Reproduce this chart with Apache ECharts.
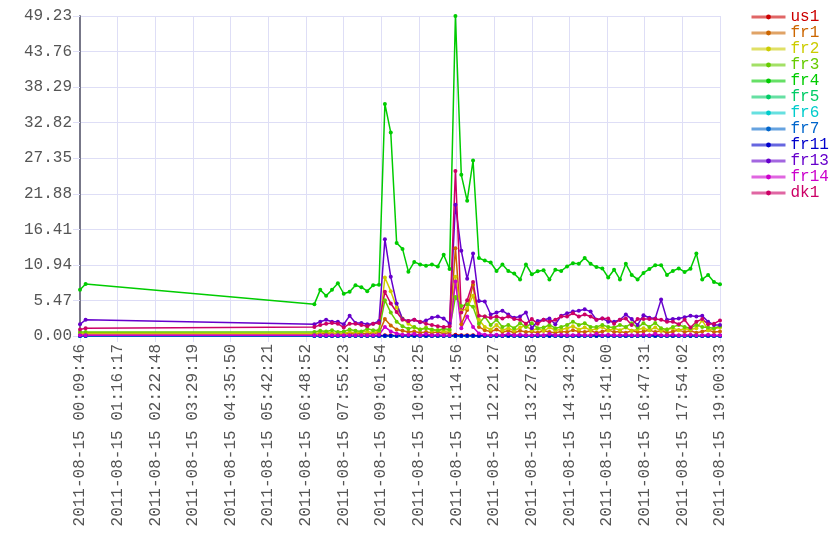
<!DOCTYPE html>
<html><head><meta charset="utf-8">
<script src="https://cdn.jsdelivr.net/npm/echarts@6/dist/echarts.min.js"></script>
<style>html,body{margin:0;padding:0;background:#fff}#c{width:840px;height:560px}</style>
</head><body><div id="c"></div>
<script>
const DAY = '2011-08-15';
const times = ['00:09:46','00:19:40',
'07:03:52','07:14:15','07:24:38','07:35:01','07:45:24','07:55:47','08:06:10','08:16:33','08:26:56','08:37:19','08:47:42','08:58:05',
'09:08:28','09:18:51','09:29:14','09:39:37','09:50:00','10:00:23','10:10:46','10:21:09','10:31:32','10:41:55','10:52:18','11:02:41',
'11:13:04','11:23:27','11:33:50','11:44:13','11:54:36','12:04:59','12:15:22','12:25:45','12:36:08','12:46:31','12:56:54','13:07:17',
'13:17:40','13:28:03','13:38:26','13:48:49','13:59:12','14:09:35','14:19:58','14:30:21','14:40:44','14:51:07','15:01:30','15:11:53',
'15:22:16','15:32:39','15:43:02','15:53:25','16:03:48','16:14:11','16:24:34','16:34:57','16:45:20','16:55:43','17:06:06','17:16:29',
'17:26:52','17:37:15','17:47:38','17:58:01','18:08:24','18:18:47','18:29:10','18:39:33','18:49:56','19:00:33'];

const seriesNames = ['us1','fr1','fr2','fr3','fr4','fr5','fr6','fr7','fr11','fr13','fr14','dk1'];
const seriesColors = ['#cc0000','#cc6600','#cccc00','#66cc00','#00cc00','#00cc66','#00cccc','#0066cc','#0000cc','#6600cc','#cc00cc','#cc0066'];

const us1 = [0.05,0.05,0.05,0.05,0.05,0.05,0.05,0.05,0.05,0.05,0.05,0.05,0.05,0.05,0.1,0.1,0.05,0.05,0.05,0.05,0.05,0.05,0.05,0.05,0.05,0.05,0.2,0.1,0.1,0.1,0.05,0.05,0.05,0.05,0.05,0.05,0.05,0.05,0.05,0.05,0.05,0.05,0.05,0.05,0.05,0.05,0.05,0.05,0.05,0.05,0.05,0.05,0.05,0.05,0.05,0.05,0.05,0.05,0.05,0.05,0.05,0.05,0.05,0.05,0.05,0.05,0.05,0.05,0.05,0.05,0.05,0.05];
const fr1 = [0.3,0.3,0.3,0.4,0.3,0.4,0.3,0.3,0.4,0.3,0.4,0.3,0.4,0.5,2.6,1.6,1.0,0.8,0.6,0.7,0.5,0.6,0.5,0.6,0.4,0.5,13.5,1.8,4.0,7.9,1.4,0.9,0.7,1.0,0.6,0.8,0.5,0.8,0.6,0.7,0.5,0.8,0.6,0.5,0.7,0.6,0.9,0.7,0.6,0.8,0.5,0.7,0.9,0.6,0.7,0.5,0.8,0.6,0.7,0.9,0.6,0.8,0.5,0.7,0.9,0.6,0.8,0.5,0.7,0.9,0.6,0.7];
const fr2 = [0.4,0.5,0.4,0.5,0.6,0.4,0.5,0.4,0.6,0.5,0.6,0.7,0.5,0.8,9.0,6.9,4.4,2.7,1.9,1.3,1.0,1.3,0.8,0.9,0.7,0.8,9.1,3.8,4.3,6.2,2.5,1.4,1.0,1.7,0.9,1.2,0.8,1.3,1.6,0.9,1.1,0.8,1.3,0.9,1.0,1.2,1.5,1.0,1.3,0.9,1.1,1.4,0.8,1.2,0.9,1.3,0.8,1.0,1.2,0.9,1.3,0.8,1.0,1.2,0.9,1.1,1.0,1.2,2.4,0.9,1.1,1.3];
const fr3 = [0.6,0.6,0.6,0.8,0.7,0.9,0.6,0.7,1.0,0.8,0.7,1.1,0.9,0.9,5.5,3.6,2.2,1.5,1.1,1.4,1.0,1.2,1.0,0.9,1.1,1.0,6.0,4.6,4.9,4.5,1.9,3.0,1.7,2.5,1.4,1.7,1.2,1.95,1.4,1.95,1.2,1.3,1.7,1.2,1.4,1.7,2.2,1.7,1.95,1.4,1.4,1.7,1.4,1.3,1.7,1.4,1.95,1.3,1.95,1.4,2.0,1.2,1.0,1.4,1.7,1.4,1.2,1.7,1.4,1.3,1.2,1.5];
const fr4 = [7.1,8.0,4.9,7.1,6.2,7.1,8.1,6.5,6.8,7.8,7.5,6.9,7.8,7.9,35.7,31.3,14.3,13.4,9.9,11.4,11.0,10.8,11.0,10.7,12.5,10.3,49.23,24.8,20.8,27.0,12.0,11.6,11.3,10.0,11.0,10.0,9.6,8.7,11.0,9.5,9.95,10.1,8.7,10.2,10.0,10.7,11.2,11.1,12.0,11.1,10.6,10.4,9.0,10.2,8.7,11.1,9.4,8.7,9.7,10.3,10.9,10.9,9.4,10.0,10.4,9.85,10.35,12.7,8.7,9.4,8.3,7.95];
const fr5 = [0,0,0,0,0,0,0,0,0,0,0,0,0,0,0,0,0,0,0,0,0,0,0,0,0,0,0,0,0,0,0,0,0,0,0,0,0,0,0,0,0,0,0,0,0,0,0,0,0,0,0,0,0,0,0,0,0,0,0,0,0,0,0,0,0,0,0,0,0,0,0,0];
const fr6 = [0,0,0,0,0,0,0,0,0,0,0,0,0,0,0,0,0,0,0,0,0,0,0,0,0,0,0,0,0,0,0,0,0,0,0,0,0,0,0,0,0,0,0,0,0,0,0,0,0,0,0,0,0,0,0,0,0,0,0,0,0,0,0,0,0,0,0,0,0,0,0,0];
const fr7 = [0,0,0,0,0,0,0,0,0,0,0,0,0,0,0,0,0,0,0,0,0,0,0,0,0,0,0,0,0,0,0,0,0,0,0,0,0,0,0,0,0,0,0,0,0,0,0,0,0,0,0,0,0,0,0,0,0,0,0,0,0,0,0,0,0,0,0,0,0,0,0,0];
const fr11 = [0.02,0.02,0.02,0.02,0.02,0.02,0.02,0.02,0.02,0.02,0.02,0.02,0.02,0.02,0.02,0.02,0.02,0.02,0.02,0.02,0.02,0.02,0.02,0.02,0.02,0.02,0.02,0.02,0.02,0.02,0.02,0.02,0.02,0.02,0.02,0.02,0.02,0.02,0.02,0.02,0.02,0.02,0.02,0.02,0.02,0.02,0.02,0.02,0.02,0.02,0.02,0.02,0.02,0.02,0.02,0.02,0.02,0.02,0.02,0.02,0.02,0.02,0.02,0.02,0.02,0.02,0.02,0.02,0.02,0.02,0.02,0.02];
const fr13 = [1.8,2.5,1.8,2.2,2.5,2.2,2.2,1.8,3.1,2.0,2.0,1.8,1.9,2.3,14.9,9.1,5.0,2.6,2.3,2.5,2.1,2.4,2.8,3.0,2.7,1.9,20.2,13.1,8.8,12.7,5.4,5.3,3.3,3.6,3.9,3.3,2.8,3.0,3.6,1.2,2.3,2.5,2.7,1.8,3.1,3.5,3.75,3.9,4.1,3.75,2.5,2.7,2.2,2.2,2.5,3.3,2.6,1.7,3.2,2.8,2.7,5.6,2.5,2.6,2.7,2.9,3.1,3.0,3.1,2.2,1.7,1.7];
const fr14 = [0.1,0.1,0.1,0.1,0.1,0.1,0.1,0.1,0.1,0.1,0.1,0.1,0.1,0.2,1.4,0.7,0.4,0.2,0.2,0.3,0.1,0.3,0.1,0.2,0.1,0.1,8.4,1.2,3.0,1.4,0.4,0.2,0.1,0.2,0.1,0.3,0.1,0.2,0.1,0.1,0.2,0.1,0.3,0.1,0.2,0.1,0.1,0.2,0.1,0.1,0.3,0.1,0.2,0.1,0.1,0.2,0.1,0.1,0.2,0.1,0.3,0.1,0.1,0.2,0.1,0.1,0.2,0.1,0.1,0.2,0.1,0.1];
const dk1 = [1.0,1.2,1.4,1.7,1.9,2.0,1.9,1.3,1.9,1.9,1.7,1.5,1.9,2.0,6.8,5.0,3.7,2.5,2.3,2.5,2.2,1.9,1.7,1.5,1.4,1.5,25.4,3.6,5.5,8.3,3.1,3.0,2.8,3.0,2.7,3.0,2.6,2.5,1.9,2.6,1.9,2.5,2.2,2.5,3.0,3.0,3.5,3.0,3.3,3.0,2.5,2.7,2.7,1.9,2.5,2.7,1.7,2.6,2.6,2.6,2.6,2.5,2.2,2.2,1.8,2.5,1.3,2.2,2.6,1.8,1.9,2.4];

const seriesValues = [us1,fr1,fr2,fr3,fr4,fr5,fr6,fr7,fr11,fr13,fr14,dk1];

const xMin = '00:09:46', xMax = '19:00:33', xStep = '01:06:31';
const yMax = 49.23, yStep = 5.47;

function toSec(s){const p=s.split(':').map(Number);return p[0]*3600+p[1]*60+p[2];}
function pad(n){return (n<10?'0':'')+n;}
function fmt(sec){sec=Math.round(sec);return DAY+' '+pad(Math.floor(sec/3600))+':'+pad(Math.floor(sec%3600/60))+':'+pad(sec%60);}

const FONT = '"Liberation Mono", "DejaVu Sans Mono", monospace';
const GRID = '#dedef6';
const chart = echarts.init(document.getElementById('c'), null, {renderer:'canvas'});
chart.setOption({
  animation:false,
  backgroundColor:'#ffffff',
  grid:{left:80,right:120,top:16,bottom:224,containLabel:false},
  legend:{
    orient:'vertical', left:745, top:4, itemWidth:34, itemHeight:6, itemGap:0,
    data: seriesNames.map((n,i)=>({name:n, textStyle:{color:seriesColors[i]}})),
    textStyle:{fontFamily:FONT, fontSize:16, lineHeight:16},
    lineStyle:{width:3, opacity:0.6}
  },
  xAxis:{
    type:'value', min:toSec(xMin), max:toSec(xMax), interval:toSec(xStep),
    axisLine:{show:false},
    axisTick:{show:true, length:6, lineStyle:{color:GRID}},
    splitLine:{show:true, lineStyle:{color:GRID, width:1}},
    axisLabel:{rotate:90, margin:8, fontFamily:FONT, fontSize:16, color:'#555', formatter:v=>fmt(v), showMinLabel:true, showMaxLabel:true, hideOverlap:false}
  },
  yAxis:{
    type:'value', min:0, max:yMax, interval:yStep,
    axisLine:{show:true, lineStyle:{color:'#777788', width:2}},
    axisTick:{show:true, length:7, lineStyle:{color:GRID}},
    splitLine:{show:true, lineStyle:{color:GRID, width:1}},
    axisLabel:{margin:8, fontFamily:FONT, fontSize:16, color:'#555', formatter:v=>v.toFixed(2)}
  },
  series: seriesNames.map((n,i)=>({
    name:n, type:'line', color:seriesColors[i],
    symbol:'circle', symbolSize:4, showSymbol:true,
    lineStyle:{width:1.5, color:seriesColors[i]},
    itemStyle:{color:seriesColors[i]},
    data: times.map((t,j)=>[toSec(t), seriesValues[i][j]])
  }))
});
</script></body></html>
